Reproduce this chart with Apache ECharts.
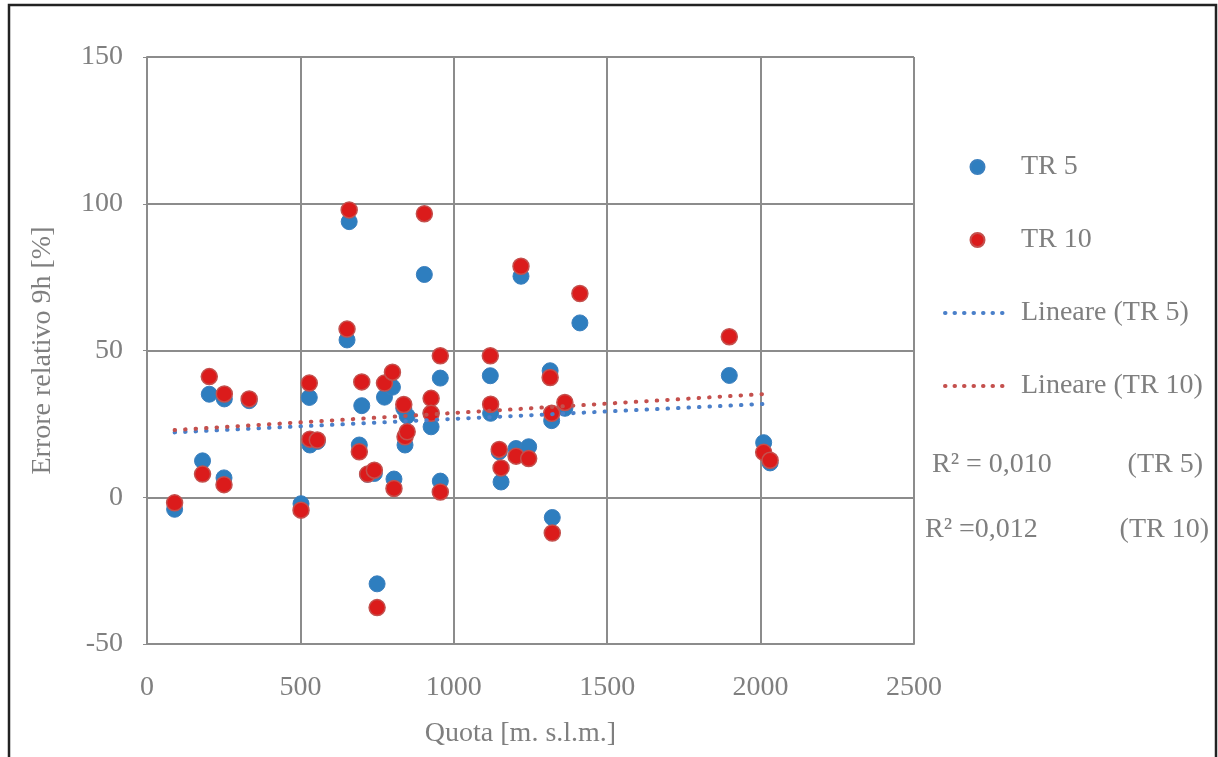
<!DOCTYPE html>
<html>
<head>
<meta charset="utf-8">
<script src="https://cdn.jsdelivr.net/npm/echarts@6/dist/echarts.min.js"></script>
<style>
  html, body { margin: 0; padding: 0; background: #fff; }
  #chart { width: 1218px; height: 757px; }
</style>
</head>
<body>
<div id="chart"></div>
<script>
// quota (m s.l.m.) of each station
var quota = [90, 181, 203, 251, 252, 333, 502, 529, 531, 555,
  652, 659, 692, 700, 719, 741, 750, 774, 800, 805,
  837, 841, 848, 904, 926, 926, 956, 956, 1119, 1120,
  1148, 1154, 1203, 1219, 1244, 1314, 1319, 1321, 1362, 1411,
  1898, 2010, 2031];
// errore relativo 9h [%]
var tr5 = [-4.1, 12.4, 35.1, 6.6, 33.5, 32.9, -2.2, 34.0, 17.8, 19.0,
  53.6, 93.9, 17.8, 31.2, 7.8, 8.1, -29.5, 34.1, 37.5, 6.2,
  30.3, 17.8, 27.7, 75.9, 28.6, 24.0, 40.6, 5.5, 41.4, 28.6,
  15.5, 5.2, 16.6, 75.3, 17.2, 43.1, 26.1, -6.9, 30.3, 59.4,
  41.5, 18.6, 11.7];
var tr10 = [-1.9, 7.9, 41.1, 4.3, 35.2, 33.5, -4.4, 38.9, 19.8, 19.5,
  57.3, 97.9, 15.5, 39.3, 7.9, 9.2, -37.6, 38.9, 42.6, 3.0,
  31.6, 20.6, 22.3, 96.6, 33.7, 28.6, 48.2, 1.8, 48.2, 31.7,
  16.3, 10.0, 14.0, 78.7, 13.2, 40.8, 28.6, -12.2, 32.3, 69.4,
  54.7, 15.3, 12.6];
// trend line ends
var trend5 = [[90, 22.1], [2031, 31.9]];
var trend10 = [[90, 22.9], [2031, 35.3]];
var xTicks = [0, 500, 1000, 1500, 2000, 2500];
var yTicks = [-50, 0, 50, 100, 150];

var pts5 = quota.map(function (q, i) { return [q, tr5[i]]; });
var pts10 = quota.map(function (q, i) { return [q, tr10[i]]; });

var gray = '#7f7f7f';
var font = '"Liberation Serif", "Times New Roman", serif';
var gridColor = '#8c8c8c';
var dots = { width: 4, type: [0.5, 10], cap: 'round' };

var myChart = echarts.init(document.getElementById('chart'));
myChart.setOption({
  backgroundColor: '#fff',
  animation: false,
  textStyle: { fontFamily: font },
  grid: { left: 147, right: 304, top: 57, bottom: 113 },
  legend: {
    orient: 'vertical',
    left: 938,
    top: 148,
    itemWidth: 65,
    itemHeight: 14,
    itemGap: 45,
    textStyle: { fontFamily: font, fontSize: 28, color: gray, padding: [0, 0, 0, 6] },
    data: [
      'TR 5',
      'TR 10',
      { name: 'Lineare (TR 5)', itemStyle: { opacity: 0 }, lineStyle: { width: 4, type: [0.5, 9], cap: 'round' } },
      { name: 'Lineare (TR 10)', itemStyle: { opacity: 0 }, lineStyle: { width: 4, type: [0.5, 9], cap: 'round' } }
    ]
  },
  xAxis: {
    type: 'value',
    min: xTicks[0],
    max: xTicks[xTicks.length - 1],
    interval: 500,
    name: 'Quota [m. s.l.m.]',
    nameLocation: 'middle',
    nameGap: 76,
    nameTextStyle: { fontFamily: font, fontSize: 28, color: gray, padding: [0, 20, 0, 0] },
    axisLine: { onZero: false, lineStyle: { color: gridColor, width: 2 } },
    axisTick: { show: false },
    axisLabel: {
      margin: 30, fontFamily: font, fontSize: 28, color: gray,
      formatter: function (v) { return String(v); }
    },
    splitLine: { lineStyle: { color: gridColor, width: 2 } }
  },
  yAxis: {
    type: 'value',
    min: yTicks[0],
    max: yTicks[yTicks.length - 1],
    interval: 50,
    name: 'Errore relativo 9h [%]',
    nameLocation: 'middle',
    nameGap: 90,
    nameTextStyle: { fontFamily: font, fontSize: 28, color: gray },
    axisLine: { show: true, lineStyle: { color: gridColor, width: 2 } },
    axisTick: { show: true, length: 4, lineStyle: { color: gridColor } },
    axisLabel: { margin: 24, fontFamily: font, fontSize: 28, color: gray },
    splitLine: { lineStyle: { color: gridColor, width: 2 } }
  },
  series: [
    {
      name: 'TR 5',
      type: 'scatter',
      symbolSize: 16,
      data: pts5,
      itemStyle: { color: '#2e7ebf', borderColor: '#3a7fbe', borderWidth: 1, opacity: 1 }
    },
    {
      name: 'TR 10',
      type: 'scatter',
      symbolSize: 16,
      data: pts10,
      itemStyle: { color: '#db1b1b', borderColor: '#c4504d', borderWidth: 1.5, opacity: 1 }
    },
    {
      name: 'Lineare (TR 5)',
      type: 'line',
      data: trend5,
      symbol: 'none',
      showSymbol: false,
      itemStyle: { color: '#4a7fc9' },
      lineStyle: Object.assign({ color: '#4a7fc9' }, dots)
    },
    {
      name: 'Lineare (TR 10)',
      type: 'line',
      data: trend10,
      symbol: 'none',
      showSymbol: false,
      itemStyle: { color: '#c4504d' },
      lineStyle: Object.assign({ color: '#c4504d' }, dots)
    }
  ],
  graphic: [
    {
      type: 'rect',
      shape: { x: 9, y: 5, width: 1207, height: 800 },
      style: { fill: 'none', stroke: '#222', lineWidth: 2.5 },
      silent: true
    },
    {
      type: 'text', left: 932, top: 451,
      style: { text: 'R² = 0,010', font: '28px ' + font, fill: gray }
    },
    {
      type: 'text', right: 15, top: 451,
      style: { text: '(TR 5)', font: '28px ' + font, fill: gray }
    },
    {
      type: 'text', left: 925, top: 516,
      style: { text: 'R² =0,012', font: '28px ' + font, fill: gray }
    },
    {
      type: 'text', right: 9, top: 516,
      style: { text: '(TR 10)', font: '28px ' + font, fill: gray }
    }
  ]
});
</script>
</body>
</html>
